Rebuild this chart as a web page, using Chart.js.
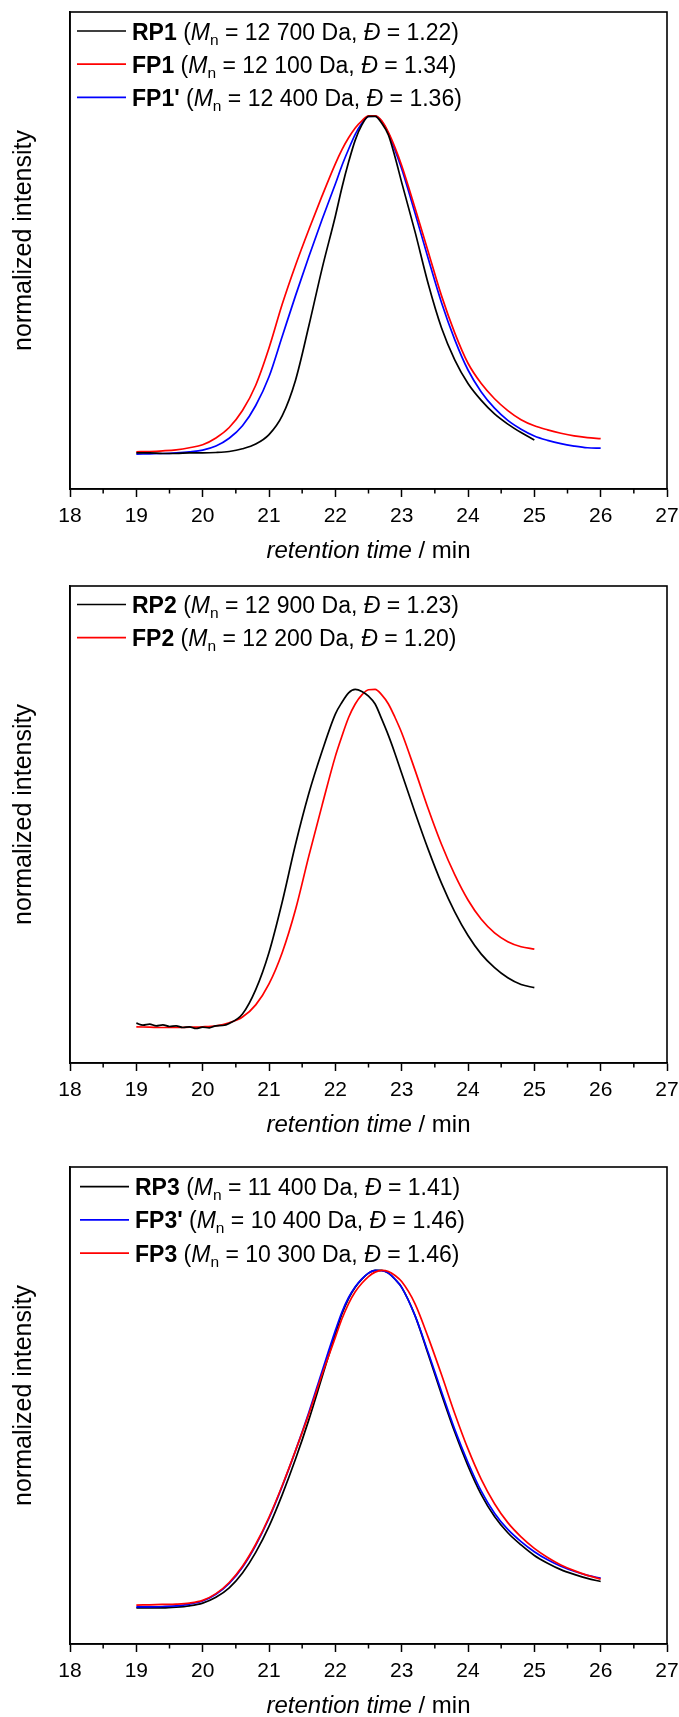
<!DOCTYPE html>
<html>
<head>
<meta charset="utf-8">
<script src="https://cdn.jsdelivr.net/npm/chart.js@4.4.1/dist/chart.umd.min.js"></script>
<style>
  html, body { margin: 0; padding: 0; background: #fff; overflow: hidden; }
  #page { position: relative; width: 679px; height: 1717px; }
  canvas { position: absolute; left: 0; display: block; }
</style>
</head>
<body>
<div id="page">
  <canvas id="sec1" width="679" height="565" style="top:0px;width:679px;height:565px"></canvas>
  <canvas id="sec2" width="679" height="565" style="top:574px;width:679px;height:565px"></canvas>
  <canvas id="sec3" width="679" height="562" style="top:1155px;width:679px;height:562px"></canvas>
</div>
<script>
const FONT = '"Liberation Sans", Arial, Helvetica, sans-serif';

// retention-time grids (min); denser around the peak maximum
const rtTo25 = [19.0, 19.2, 19.4, 19.6, 19.8, 20.0, 20.2, 20.4, 20.6, 20.8,
                21.0, 21.2, 21.4, 21.6, 21.8,
                22.0, 22.1, 22.2, 22.3, 22.4, 22.5, 22.6, 22.7, 22.8, 22.9, 23.0,
                23.2, 23.4, 23.6, 23.8, 24.0, 24.2, 24.4, 24.6, 24.8, 25.0];
const rtTo26 = rtTo25.concat([25.2, 25.4, 25.6, 25.8, 26.0]);
// RP2 was sampled more finely over its noisy baseline
const rtRp2 = [19.0, 19.1, 19.2, 19.3, 19.4, 19.5, 19.6, 19.7, 19.8, 19.9,
               20.0, 20.1, 20.2, 20.3, 20.4, 20.6, 20.8,
               21.0, 21.2, 21.4, 21.6, 21.8,
               22.0, 22.1, 22.2, 22.3, 22.4, 22.5, 22.6, 22.7, 22.8, 22.9, 23.0,
               23.2, 23.4, 23.6, 23.8, 24.0, 24.2, 24.4, 24.6, 24.8, 25.0];

// x axis ticks (min)
const timeTicks = [18, 19, 20, 21, 22, 23, 24, 25, 26, 27];
const minorTimeTicks = [18.5, 19.5, 20.5, 21.5, 22.5, 23.5, 24.5, 25.5, 26.5];

// SEC traces, normalized detector intensity
const rp1  = [0.000, 0.000, -0.002, -0.002, 0.000, 0.000, 0.001, 0.004, 0.012, 0.026,
              0.054, 0.110, 0.215, 0.375, 0.545,
              0.700, 0.785, 0.860, 0.925, 0.970, 0.995, 0.995, 0.975, 0.940, 0.875, 0.800,
              0.655, 0.500, 0.370, 0.275, 0.205, 0.155, 0.115, 0.085, 0.060, 0.038];
const fp1  = [0.003, 0.004, 0.006, 0.009, 0.015, 0.024, 0.044, 0.075, 0.125, 0.200,
              0.310, 0.440, 0.555, 0.660, 0.760,
              0.855, 0.897, 0.932, 0.961, 0.982, 0.997, 0.997, 0.982, 0.948, 0.903, 0.850,
              0.725, 0.595, 0.465, 0.355, 0.265, 0.205, 0.160, 0.125, 0.098, 0.080,
              0.068, 0.058, 0.050, 0.045, 0.042];
const fp1p = [-0.004, -0.003, -0.002, 0.000, 0.003, 0.008, 0.020, 0.043, 0.080, 0.140,
              0.225, 0.345, 0.465, 0.580, 0.690,
              0.795, 0.850, 0.898, 0.942, 0.975, 0.995, 0.996, 0.980, 0.945, 0.895, 0.840,
              0.710, 0.575, 0.445, 0.335, 0.245, 0.180, 0.132, 0.096, 0.070, 0.050,
              0.037, 0.027, 0.020, 0.015, 0.014];

const rp2  = [0.011, 0.005, 0.008, 0.003, 0.006, 0.001, 0.003, -0.002, 0.000, -0.005,
              -0.001, -0.003, 0.003, 0.004, 0.010, 0.038, 0.110,
              0.220, 0.370, 0.540, 0.690, 0.815,
              0.925, 0.960, 0.988, 0.998, 0.992, 0.978, 0.955, 0.910, 0.862, 0.808, 0.750,
              0.635, 0.525, 0.425, 0.340, 0.270, 0.215, 0.175, 0.145, 0.125, 0.116];
const fp2  = [0.000, -0.001, -0.002, -0.002, -0.001, 0.000, 0.003, 0.012, 0.029, 0.065,
              0.127, 0.220, 0.347, 0.505, 0.655,
              0.800, 0.860, 0.915, 0.955, 0.982, 0.997, 0.998, 0.982, 0.955, 0.915, 0.870,
              0.760, 0.645, 0.540, 0.450, 0.375, 0.318, 0.278, 0.252, 0.237, 0.230];

const rp3  = [0.000, 0.000, 0.000, 0.002, 0.006, 0.014, 0.031, 0.059, 0.103, 0.164,
              0.241, 0.335, 0.440, 0.556, 0.683,
              0.810, 0.870, 0.915, 0.948, 0.972, 0.990, 0.998, 0.998, 0.990, 0.972, 0.948,
              0.865, 0.750, 0.632, 0.520, 0.420, 0.335, 0.270, 0.222, 0.186, 0.155,
              0.132, 0.113, 0.099, 0.087, 0.078];
const fp3p = [0.003, 0.003, 0.004, 0.006, 0.011, 0.020, 0.040, 0.072, 0.120, 0.185,
              0.265, 0.360, 0.465, 0.578, 0.700,
              0.820, 0.875, 0.918, 0.950, 0.973, 0.990, 0.998, 0.997, 0.990, 0.972, 0.948,
              0.865, 0.755, 0.640, 0.528, 0.430, 0.345, 0.280, 0.232, 0.196, 0.166,
              0.142, 0.123, 0.108, 0.096, 0.088];
const fp3  = [0.008, 0.009, 0.010, 0.011, 0.014, 0.022, 0.042, 0.075, 0.123, 0.188,
              0.268, 0.362, 0.465, 0.573, 0.690,
              0.800, 0.855, 0.900, 0.935, 0.960, 0.980, 0.993, 0.998, 0.995, 0.983, 0.965,
              0.900, 0.800, 0.690, 0.575, 0.470, 0.380, 0.308, 0.252, 0.210, 0.176,
              0.149, 0.127, 0.110, 0.096, 0.085];

// legend annotations: sample, number-average molar mass, dispersity
const names1 = ['RP1', 'FP1', "FP1'"];
const mn1    = ['12 700', '12 100', '12 400'];
const disp1  = ['1.22', '1.34', '1.36'];
const names2 = ['RP2', 'FP2'];
const mn2    = ['12 900', '12 200'];
const disp2  = ['1.23', '1.20'];
const names3 = ['RP3', "FP3'", 'FP3'];
const mn3    = ['11 400', '10 400', '10 300'];
const disp3  = ['1.41', '1.46', '1.46'];

const BLACK = '#000000', RED = '#ff0000', BLUE = '#0000ff';

// frame, minor ticks, axis titles and the rich-text legend
const panelDecor = {
  id: 'panelDecor',
  afterDraw(chart, args, opts) {
    const { ctx, chartArea: a } = chart;
    const x = chart.scales.x;
    ctx.save();
    ctx.strokeStyle = '#000';
    ctx.lineWidth = 1.6;
    ctx.strokeRect(a.left, a.top, a.right - a.left, a.bottom - a.top);

    ctx.lineWidth = 1.5;
    minorTimeTicks.forEach(v => {
      const px = x.getPixelForValue(v);
      ctx.beginPath();
      ctx.moveTo(px, a.bottom);
      ctx.lineTo(px, a.bottom + 4.5);
      ctx.stroke();
    });

    ctx.fillStyle = '#000';
    ctx.textBaseline = 'alphabetic';

    // x title: italic quantity / unit
    const cx = (a.left + a.right) / 2;
    const by = a.bottom + 69;
    ctx.font = 'italic 24px ' + FONT;
    const q = 'retention time';
    const wq = ctx.measureText(q).width;
    ctx.font = '24px ' + FONT;
    const u = ' / min';
    const wu = ctx.measureText(u).width;
    const tx = cx - (wq + wu) / 2;
    ctx.textAlign = 'left';
    ctx.font = 'italic 24px ' + FONT;
    ctx.fillText(q, tx, by);
    ctx.font = '24px ' + FONT;
    ctx.fillText(u, tx + wq, by);

    // y title
    ctx.save();
    ctx.translate(31, (a.top + a.bottom) / 2 - 10);
    ctx.rotate(-Math.PI / 2);
    ctx.textAlign = 'center';
    ctx.font = '25px ' + FONT;
    ctx.fillText('normalized intensity', 0, 0);
    ctx.restore();

    // legend
    const entries = opts.entries || [];
    entries.forEach((e, i) => {
      const y = a.top + opts.rowTop + i * 33.2;
      const x0 = a.left + 7 + opts.dx;
      ctx.strokeStyle = e.color;
      ctx.lineWidth = 1.7;
      ctx.beginPath();
      ctx.moveTo(x0, y);
      ctx.lineTo(x0 + 49, y);
      ctx.stroke();
      let px = x0 + 55;
      const base = y + 8.5;
      const put = (txt, font, dy) => {
        ctx.font = font;
        ctx.fillText(txt, px, base + (dy || 0));
        px += ctx.measureText(txt).width;
      };
      put(e.name, 'bold 23px ' + FONT);
      put(' (', '23px ' + FONT);
      put('M', 'italic 23px ' + FONT);
      put('n', '15.5px ' + FONT, 5);
      put(' = ' + e.mn + ' Da, ', '23px ' + FONT);
      put('Đ', 'italic 23px ' + FONT);
      put(' = ' + e.disp + ')', '23px ' + FONT);
    });
    ctx.restore();
  }
};

function buildPanel(canvasId, series, xAxisHeight, rowTop, dx) {
  return new Chart(document.getElementById(canvasId), {
    type: 'line',
    data: {
      datasets: series.map(s => ({
        label: s.name,
        data: s.t.map((t, i) => ({ x: t, y: s.v[i] })),
        borderColor: s.color,
        borderWidth: 1.7,
        pointRadius: 0,
        fill: false,
        cubicInterpolationMode: 'monotone',
        order: s.order
      }))
    },
    options: {
      responsive: false,
      animation: false,
      events: [],
      layout: { padding: { top: 12, right: 12, left: 0, bottom: 0 } },
      plugins: {
        legend: { display: false },
        tooltip: { enabled: false },
        panelDecor: {
          rowTop: rowTop,
          dx: dx,
          entries: series.map(s => ({ name: s.name, mn: s.mn, disp: s.disp, color: s.color }))
        }
      },
      scales: {
        x: {
          type: 'linear',
          min: 18,
          max: 27,
          afterBuildTicks: s => { s.ticks = timeTicks.map(v => ({ value: v })); },
          ticks: { font: { family: FONT, size: 21 }, color: '#000', padding: 7, maxRotation: 0, autoSkip: false },
          grid: { drawOnChartArea: false, drawTicks: true, tickLength: 8, tickWidth: 1.5, tickColor: '#000' },
          border: { display: true, color: '#000', width: 1.6 },
          afterFit: s => { s.height = xAxisHeight; s.paddingLeft = 0; s.paddingRight = 0; }
        },
        y: {
          type: 'linear',
          min: -0.107,
          max: 1.304,
          ticks: { display: false },
          grid: { drawOnChartArea: false, drawTicks: false },
          border: { display: true, color: '#000', width: 1.6 },
          afterFit: s => { s.width = 70; }
        }
      }
    },
    plugins: [panelDecor]
  });
}

buildPanel('sec1', [
  { name: names1[0], mn: mn1[0], disp: disp1[0], t: rtTo25, v: rp1,  color: BLACK, order: 0 },
  { name: names1[1], mn: mn1[1], disp: disp1[1], t: rtTo26, v: fp1,  color: RED,   order: 1 },
  { name: names1[2], mn: mn1[2], disp: disp1[2], t: rtTo26, v: fp1p, color: BLUE,  order: 2 }
], 76, 19, 0);

buildPanel('sec2', [
  { name: names2[0], mn: mn2[0], disp: disp2[0], t: rtRp2,  v: rp2, color: BLACK, order: 0 },
  { name: names2[1], mn: mn2[1], disp: disp2[1], t: rtTo25, v: fp2, color: RED,   order: 1 }
], 76, 18.5, 0);

buildPanel('sec3', [
  { name: names3[0], mn: mn3[0], disp: disp3[0], t: rtTo26, v: rp3,  color: BLACK, order: 2 },
  { name: names3[1], mn: mn3[1], disp: disp3[1], t: rtTo26, v: fp3p, color: BLUE,  order: 1 },
  { name: names3[2], mn: mn3[2], disp: disp3[2], t: rtTo26, v: fp3,  color: RED,   order: 0 }
], 73, 19.7, 3);
</script>
</body>
</html>
